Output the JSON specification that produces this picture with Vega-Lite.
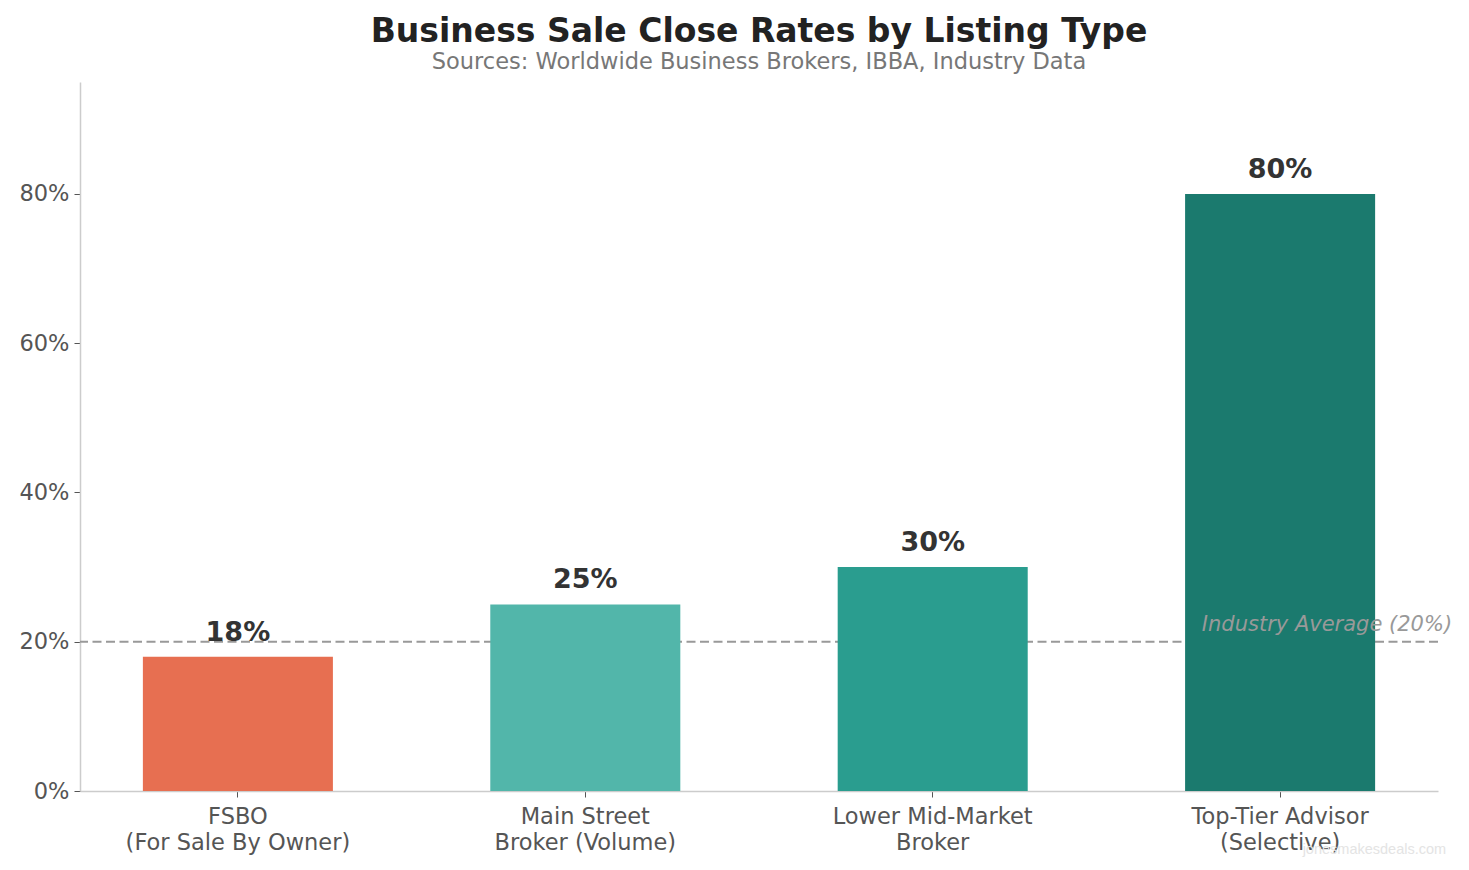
{
  "$schema": "https://vega.github.io/schema/vega-lite/v6.json",
  "description": "Business sale close rates by listing type, bar chart with value labels and an industry average reference line.",
  "width": 1358,
  "height": 709,
  "autosize": {"type": "none"},
  "padding": {"left": 80, "top": 82, "right": 31, "bottom": 79},
  "background": "white",
  "config": {
    "font": "DejaVu Sans",
    "view": {"stroke": null},
    "axis": {"grid": false}
  },
  "title": {
    "text": "Business Sale Close Rates by Listing Type",
    "subtitle": "Sources: Worldwide Business Brokers, IBBA, Industry Data",
    "anchor": "middle",
    "fontSize": 33,
    "fontWeight": "bold",
    "color": "#222222",
    "subtitleFontSize": 22.5,
    "subtitleColor": "#777777",
    "subtitlePadding": 2,
    "offset": 9
  },
  "datasets": {
    "rates": [
      {"listing": "FSBO\n(For Sale By Owner)", "rate": 0.18},
      {"listing": "Main Street\nBroker (Volume)", "rate": 0.25},
      {"listing": "Lower Mid-Market\nBroker", "rate": 0.30},
      {"listing": "Top-Tier Advisor\n(Selective)", "rate": 0.80}
    ],
    "average": [
      {"listing": "Top-Tier Advisor\n(Selective)", "rate": 0.20, "note": "Industry Average (20%)"}
    ],
    "mark": [
      {"listing": "Top-Tier Advisor\n(Selective)", "rate": 0, "note": "jonesmakesdeals.com"}
    ]
  },
  "encoding": {
    "x": {
      "field": "listing",
      "type": "nominal",
      "sort": null,
      "title": null,
      "scale": {
        "domain": ["FSBO\n(For Sale By Owner)", "Main Street\nBroker (Volume)", "Lower Mid-Market\nBroker", "Top-Tier Advisor\n(Selective)"],
        "paddingInner": 0.453,
        "paddingOuter": 0.181
      },
      "axis": {
        "labelAngle": 0,
        "labelExpr": "split(datum.label, '\\n')",
        "labelLimit": 0,
        "labelFontSize": 22.5,
        "labelColor": "#555555",
        "labelLineHeight": 26,
        "labelPadding": 8,
        "tickColor": "#555555",
        "tickSize": 6,
        "domainColor": "#cccccc",
        "domainWidth": 1.5
      }
    },
    "y": {
      "field": "rate",
      "type": "quantitative",
      "title": null,
      "scale": {"domain": [0, 0.95], "nice": false},
      "axis": {
        "values": [0, 0.2, 0.4, 0.6, 0.8],
        "format": ".0%",
        "labelFontSize": 22.5,
        "labelColor": "#555555",
        "labelPadding": 5,
        "tickColor": "#555555",
        "tickSize": 6,
        "domainColor": "#cccccc",
        "domainWidth": 1.5
      }
    }
  },
  "layer": [
    {
      "data": {"name": "average"},
      "mark": {"type": "rule", "color": "#999999", "strokeWidth": 2, "strokeDash": [9, 4.5]},
      "encoding": {"x": null, "y": {"field": "rate", "type": "quantitative"}}
    },
    {
      "data": {"name": "rates"},
      "mark": {"type": "bar"},
      "encoding": {
        "color": {
          "field": "listing",
          "type": "nominal",
          "legend": null,
          "scale": {
            "domain": ["FSBO\n(For Sale By Owner)", "Main Street\nBroker (Volume)", "Lower Mid-Market\nBroker", "Top-Tier Advisor\n(Selective)"],
            "range": ["#e76f51", "#52b6aa", "#2a9d8f", "#1b7a6e"]
          }
        }
      }
    },
    {
      "data": {"name": "rates"},
      "mark": {"type": "text", "baseline": "alphabetic", "dy": -16, "fontSize": 27, "fontWeight": "bold", "color": "#333333"},
      "encoding": {"text": {"field": "rate", "type": "quantitative", "format": ".0%"}}
    },
    {
      "data": {"name": "average"},
      "mark": {"type": "text", "align": "right", "baseline": "alphabetic", "dx": 172, "dy": -11, "fontSize": 21, "fontStyle": "italic", "color": "#999999"},
      "encoding": {"text": {"field": "note"}}
    },
    {
      "data": {"name": "mark"},
      "mark": {"type": "text", "align": "right", "baseline": "alphabetic", "dx": 166, "dy": 63, "fontSize": 14.5, "font": "Liberation Sans", "color": "#e4e4e4"},
      "encoding": {"text": {"field": "note"}}
    }
  ]
}
